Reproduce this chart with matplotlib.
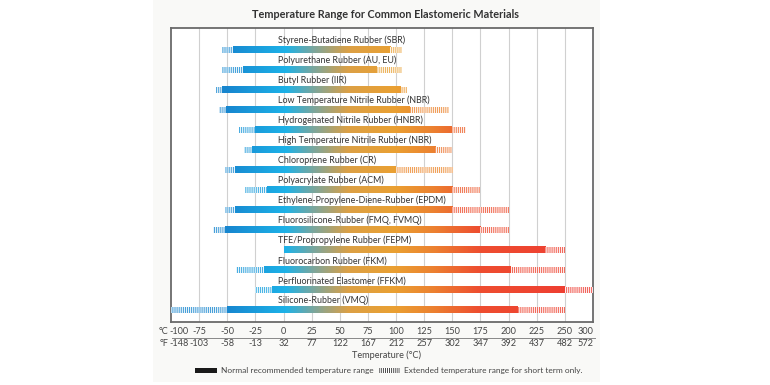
import numpy as np
import matplotlib.pyplot as plt
from matplotlib.colors import LinearSegmentedColormap, Normalize
from matplotlib.patches import Rectangle
import matplotlib.transforms as mtransforms

plt.rcParams['font.family'] = ['Lato', 'DejaVu Sans']
plt.rcParams['hatch.linewidth'] = 0.95

# materials, top to bottom
materials = [
    "Styrene-Butadiene Rubber (SBR)",
    "Polyurethane Rubber (AU, EU)",
    "Butyl Rubber (IIR)",
    "Low Temperature Nitrile Rubber (NBR)",
    "Hydrogenated Nitrile Rubber (HNBR)",
    "High Temperature Nitrile Rubber (NBR)",
    "Chloroprene Rubber (CR)",
    "Polyacrylate Rubber (ACM)",
    "Ethylene-Propylene-Diene-Rubber (EPDM)",
    "Fluorosilicone-Rubber (FMQ, FVMQ)",
    "TFE/Propropylene Rubber (FEPM)",
    "Fluorocarbon Rubber (FKM)",
    "Perfluorinated Elastomer (FFKM)",
    "Silicone-Rubber (VMQ)",
]
# temperatures in degC
ext_low = [-55, -55, -60, -57, -40, -35, -52, -34, -52, -63, 0, -42, -25, -100]
norm_low = [-45, -36, -55, -51, -25, -28, -43, -15, -43, -52, 0, -17, -10, -50]
norm_high = [95, 83, 104, 112, 150, 135, 100, 150, 150, 175, 232, 202, 250, 208]
ext_high = [105, 105, 110, 147, 162, 150, 151, 175, 200, 200, 250, 250, 300, 250]

c_ticks = [-100, -75, -50, -25, 0, 25, 50, 75, 100, 125, 150, 175, 200, 225, 250, 300]
f_ticks = [-148, -103, -58, -13, 32, 77, 122, 167, 212, 257, 302, 347, 392, 437, 482, 572]


def to_pos(t):
    # the axis is squeezed above 250 degC
    t = np.asarray(t, dtype=float)
    return np.where(t <= 250, t, 250 + (t - 250) / 2)


cmap = LinearSegmentedColormap.from_list("temp", [
    (0.00, "#1a86cc"),
    (0.13, "#1786cf"),
    (0.27, "#1db2e8"),
    (0.34, "#7fa69a"),
    (0.42, "#dca046"),
    (0.53, "#eaa032"),
    (0.62, "#ec8230"),
    (0.73, "#ee4e30"),
    (1.00, "#ee3a32"),
])
tnorm = Normalize(-100, 275)

fig = plt.figure(figsize=(7.7, 3.85), dpi=100)
fig.patches.append(Rectangle((153 / 770, 3 / 385), 447 / 770, 382 / 385,
                             transform=fig.transFigure, facecolor="#f9f9f7",
                             edgecolor="none", zorder=-5))
ax = fig.add_axes([171 / 770, 63 / 385, 422 / 770, 294 / 385])
ax.set_facecolor("white")
ax.set_xlim(-100, 275)
ax.set_ylim(13.6, -1.1)
ax.set_xticks([])
ax.set_yticks([])
for s in ax.spines.values():
    s.set_color("#6a6a6a")
    s.set_linewidth(1.3)

for g in c_ticks[1:-1]:
    ax.axvline(g, color="#d0d0d0", lw=0.8, zorder=1)

h = 0.32
for i, name in enumerate(materials):
    p0, p1, p2, p3 = to_pos([ext_low[i], norm_low[i], norm_high[i], ext_high[i]])
    # solid part
    xs = np.linspace(p1, p2, 300).reshape(1, -1)
    ax.imshow(xs, cmap=cmap, norm=tnorm, extent=(p1, p2, i + h / 2, i - h / 2),
              aspect="auto", interpolation="bilinear", zorder=3)
    # striped extensions
    for a, b in [(p0, p1), (p2, p3)]:
        if b - a <= 0.1:
            continue
        c = cmap(tnorm((a + b) / 2))
        ax.add_patch(Rectangle((a, i - h / 2), b - a, h, facecolor=c,
                               edgecolor=(1, 1, 1, 0.9), lw=0,
                               hatch="|" * 8, zorder=3))
    ax.text(-5, i - 0.47, name, fontsize=6.4, color="#333333",
            ha="left", va="center", zorder=4)

fig.text(386 / 770, 1 - 15 / 385, "Temperature Range for Common Elastomeric Materials",
         ha="center", va="center", fontsize=7.8, fontweight="bold", color="#333333")

# temperature scales under the axes
trans = mtransforms.blended_transform_factory(ax.transData, fig.transFigure)
yc = 1 - 331 / 385
yf = 1 - 344 / 385
for c, f in zip(c_ticks, f_ticks):
    x = float(to_pos(c))
    ha = "center"
    if c == -100:
        x, ha = x - 1.5, "left"
    if c == 300:
        x = x - 7
    ax.text(x, yc, str(c), transform=trans, ha=ha, va="center",
            fontsize=6.6, color="#444444", clip_on=False)
    ax.text(x, yf, str(f), transform=trans, ha=ha, va="center",
            fontsize=6.6, color="#444444", clip_on=False)
fig.text(168 / 770, yc, "°C", ha="right", va="center", fontsize=6.6, color="#444444")
fig.text(168 / 770, yf, "°F", ha="right", va="center", fontsize=6.6, color="#444444")
fig.lines.append(plt.Line2D([172 / 770, 595 / 770], [1 - 338 / 385, 1 - 338 / 385],
                            transform=fig.transFigure, color="#888888", lw=0.7))
fig.text(387 / 770, 1 - 355 / 385, "Temperature (°C)", ha="center", va="center",
         fontsize=6.6, color="#444444")

# legend
ly = 1 - 373 / 385
fig.patches.append(Rectangle((195 / 770, ly), 22 / 770, 5 / 385, transform=fig.transFigure,
                             facecolor="#1a1a1a", edgecolor="none"))
fig.text(221 / 770, ly + 2.5 / 385, "Normal recommended temperature range", ha="left",
         va="center", fontsize=5.95, color="#444444")
fig.patches.append(Rectangle((379 / 770, ly), 21 / 770, 5 / 385, transform=fig.transFigure,
                             facecolor="#1a1a1a", edgecolor="white", lw=0, hatch="|" * 8))
fig.text(404 / 770, ly + 2.5 / 385, "Extended temperature range for short term only.",
         ha="left", va="center", fontsize=5.95, color="#444444")

fig.savefig("out.png", dpi=100, facecolor="white")
